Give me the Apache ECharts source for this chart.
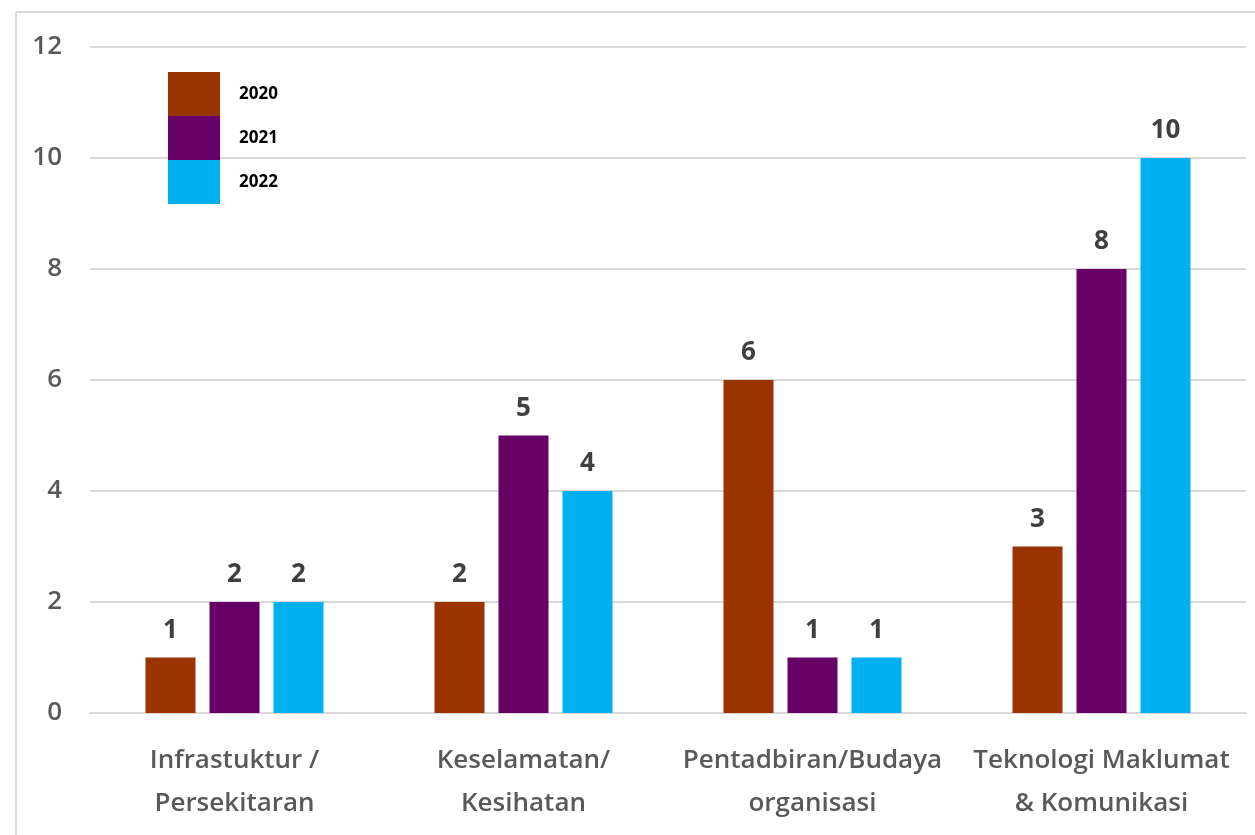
<!DOCTYPE html>
<html lang="en">
<head>
    <meta charset="UTF-8">
    <title>Bar chart</title>
    <script src="https://cdn.jsdelivr.net/npm/echarts@6/dist/echarts.min.js"></script>
</head>
<body style="margin:0">
<div id="my" style="width: 1255px;height: 835px;"></div>
<script>
    var categories = ['Infrastuktur /\nPersekitaran', 'Keselamatan/\nKesihatan', 'Pentadbiran/Budaya\norganisasi', 'Teknologi Maklumat\n& Komunikasi']
    var years = ['2020', '2021', '2022']
    var v2020 = [1, 2, 6, 3]
    var v2021 = [2, 5, 1, 8]
    var v2022 = [2, 4, 1, 10]
    var colors = ['#993300', '#660066', '#00b0f0']
    var fontName = "'Open Sans', sans-serif"

    var mCharts = echarts.init(document.getElementById('my'))
    function bar(name, data, color) {
        return {
            name: name,
            type: 'bar',
            data: data,
            barWidth: 50,
            barGap: '28%',
            itemStyle: {color: color},
            label: {
                show: true,
                position: 'top',
                distance: 14,
                color: '#404040',
                fontWeight: 'bold',
                fontSize: 26,
                fontFamily: fontName
            }
        }
    }
    var option = {
        animation: false,
        graphic: [
            {type: 'line', shape: {x1: 16, y1: 12, x2: 1255, y2: 12}, style: {stroke: '#d9d9d9', lineWidth: 2}},
            {type: 'line', shape: {x1: 16, y1: 12, x2: 16, y2: 835}, style: {stroke: '#d9d9d9', lineWidth: 2}}
        ],
        legend: {
            orient: 'vertical',
            left: 163,
            top: 67,
            itemWidth: 52,
            itemHeight: 44,
            itemGap: 0,
            icon: 'rect',
            data: years,
            textStyle: {
                color: '#000',
                fontWeight: 'bold',
                fontSize: 17,
                fontFamily: fontName,
                padding: [0, 0, 0, 14]
            }
        },
        grid: {left: 90, right: 9, top: 47, bottom: 122},
        xAxis: {
            type: 'category',
            data: categories,
            axisTick: {show: false},
            axisLine: {lineStyle: {color: '#d9d9d9', width: 2}},
            axisLabel: {
                color: '#595959',
                fontSize: 26,
                fontWeight: 600,
                lineHeight: 43,
                margin: 26,
                fontFamily: fontName,
                interval: 0
            }
        },
        yAxis: {
            type: 'value',
            min: 0,
            max: 12,
            interval: 2,
            axisLine: {show: false},
            axisTick: {show: false},
            splitLine: {lineStyle: {color: '#d9d9d9', width: 2}},
            axisLabel: {
                color: '#595959',
                fontSize: 26,
                fontWeight: 600,
                margin: 28,
                fontFamily: fontName
            }
        },
        series: [
            bar(years[0], v2020, colors[0]),
            bar(years[1], v2021, colors[1]),
            bar(years[2], v2022, colors[2])
        ]
    }
    mCharts.setOption(option)
</script>
</body>
</html>
